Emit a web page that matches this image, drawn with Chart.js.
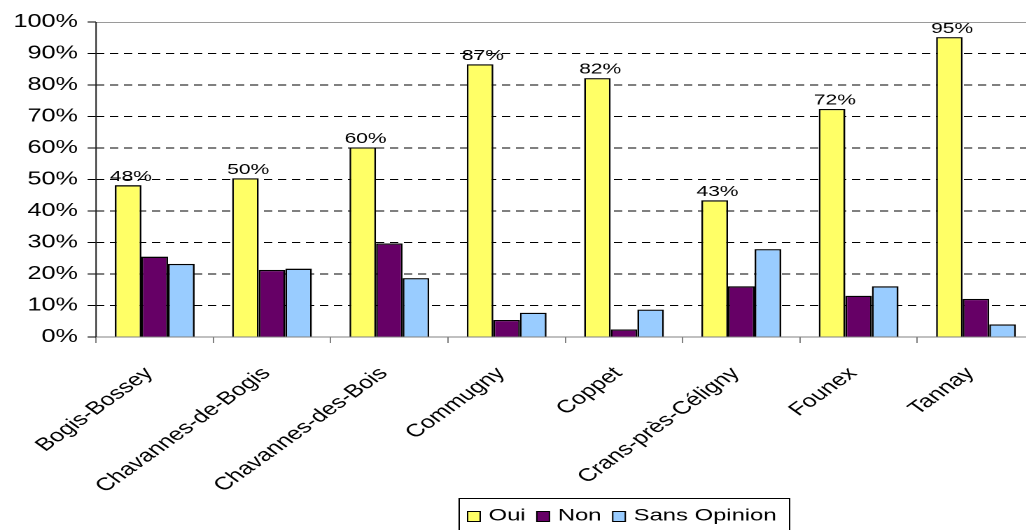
<!DOCTYPE html>
<html><head><meta charset="utf-8">
<script src="https://cdn.jsdelivr.net/npm/chart.js@4/dist/chart.umd.min.js"></script>
<style>
html,body{margin:0;padding:0;background:#fff;overflow:hidden;width:1026px;height:530px}
#wrap{position:absolute;left:0;top:0;width:742px;height:545px;transform:scaleX(1.4);transform-origin:0 0}
canvas{display:block}
</style></head><body>
<div id="wrap"><canvas id="c" width="742" height="545"></canvas></div>
<script>
const categories = ['Bogis-Bossey','Chavannes-de-Bogis','Chavannes-des-Bois','Commugny','Coppet','Crans-près-Céligny','Founex','Tannay'];
const seriesNames = ['Oui','Non','Sans Opinion'];
const oui = [48.2, 50.4, 60.2, 86.6, 82.2, 43.4, 72.4, 95.2];
const non = [25.5, 21.3, 29.7, 5.4, 2.4, 16.1, 13.1, 12.1];
const sansOpinion = [23.2, 21.7, 18.7, 7.7, 8.7, 27.9, 16.1, 4.0];
const yTickValues = [0,10,20,30,40,50,60,70,80,90,100];

const colors = ['#FFFF66','#660066','#99CCFF'];
const FONT = 'Liberation Sans, Arial, sans-serif';

const frame = {
  id: 'frame',
  beforeDatasetsDraw(chart) {
    const {ctx, chartArea: a} = chart;
    ctx.save();
    ctx.lineWidth = 1;
    ctx.strokeStyle = '#9a9a9a';
    ctx.beginPath(); ctx.moveTo(a.left, a.top + 0.5); ctx.lineTo(a.right, a.top + 0.5); ctx.stroke();
    ctx.strokeStyle = '#808080';
    ctx.beginPath(); ctx.moveTo(a.left, a.bottom); ctx.lineTo(a.right, a.bottom); ctx.stroke();
    ctx.strokeStyle = '#222';
    ctx.beginPath(); ctx.moveTo(a.left, a.top); ctx.lineTo(a.left, a.bottom); ctx.stroke();
    ctx.restore();
  },
  afterDatasetsDraw(chart) {
    const {ctx} = chart;
    const meta = chart.getDatasetMeta(0);
    ctx.save();
    ctx.font = '15px ' + FONT;
    ctx.fillStyle = '#000';
    ctx.textAlign = 'center';
    ctx.textBaseline = 'bottom';
    meta.data.forEach((bar, i) => {
      ctx.fillText(Math.round(oui[i]) + '%', bar.x + 2, bar.y - 1);
    });
    ctx.restore();
  },
  afterDraw(chart) {
    const {ctx} = chart;
    ctx.save();
    ctx.font = '17px ' + FONT;
    ctx.textBaseline = 'middle';
    ctx.textAlign = 'left';
    const boxLeft = 328, boxTop = 498.5, boxRight = 564, boxBottom = 540;
    ctx.fillStyle = '#fff';
    ctx.fillRect(boxLeft, boxTop, boxRight - boxLeft, boxBottom - boxTop);
    ctx.strokeStyle = '#000';
    ctx.lineWidth = 1;
    ctx.strokeRect(boxLeft, boxTop, boxRight - boxLeft, boxBottom - boxTop);
    let x = 334;
    const cy = 516;
    seriesNames.forEach((name, i) => {
      ctx.fillStyle = colors[i];
      ctx.fillRect(x, cy - 4.5, 9, 10);
      ctx.strokeStyle = '#000';
      ctx.strokeRect(x, cy - 4.5, 9, 10);
      ctx.fillStyle = '#000';
      ctx.fillText(name, x + 15, cy);
      x += 15 + ctx.measureText(name).width + 8;
    });
    ctx.restore();
  }
};

new Chart(document.getElementById('c'), {
  type: 'bar',
  data: {
    labels: categories,
    datasets: [
      {label: seriesNames[0], data: oui, backgroundColor: colors[0]},
      {label: seriesNames[1], data: non, backgroundColor: colors[1]},
      {label: seriesNames[2], data: sansOpinion, backgroundColor: colors[2]}
    ].map(d => Object.assign(d, {borderColor: '#000', borderWidth: 1.3, categoryPercentage: 0.68, barPercentage: 1.0}))
  },
  options: {
    responsive: false,
    animation: false,
    devicePixelRatio: 2,
    layout: {padding: {top: 22, right: 3, bottom: 6, left: 0}},
    plugins: {legend: {display: false}, tooltip: {enabled: false}},
    scales: {
      x: {
        offset: true,
        border: {display: false},
        grid: {display: true, drawOnChartArea: false, drawTicks: true, tickLength: 6, tickColor: '#808080', offset: true},
        ticks: {minRotation: 45, maxRotation: 45, autoSkip: false, padding: 20, labelOffset: -4, color: '#000', font: {family: FONT, size: 18}},
        afterFit(s) { s.height = 202; }
      },
      y: {
        min: 0, max: 100,
        border: {display: false, dash: [6, 4]},
        grid: {
          drawTicks: true, tickLength: 6, tickColor: '#000', tickBorderDash: [], lineWidth: 1,
          borderDash: [6, 4],
          color: ctx => (ctx.tick && (ctx.tick.value === 0 || ctx.tick.value === 100)) ? 'rgba(0,0,0,0)' : '#000'
        },
        afterBuildTicks(s) { s.ticks = yTickValues.map(v => ({value: v})); },
        ticks: {padding: 7, color: '#000', font: {family: FONT, size: 18}, callback: v => v + '%'},
        afterFit(s) { s.width = 68.6; }
      }
    }
  },
  plugins: [frame]
});
</script>
</body></html>
